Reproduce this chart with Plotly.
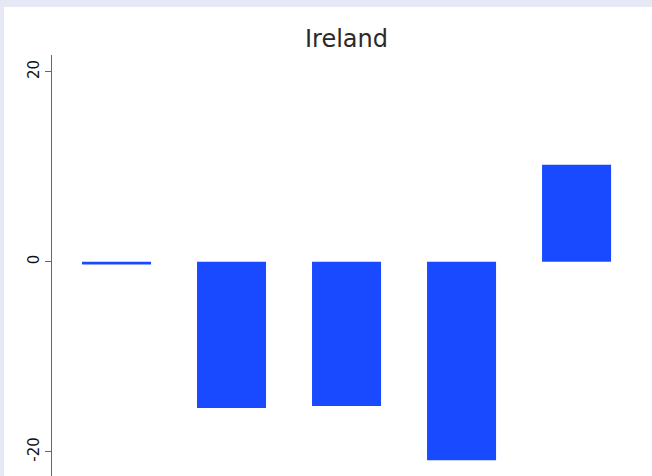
import plotly.graph_objects as go

# Data
categories = ["1", "2", "3", "4", "5"]
values = [-0.3, -15.4, -15.2, -20.9, 10.2]
y_ticks = [-20, 0, 20]
y_tick_labels = ["-20", "0", "20"]
title_text = "Ireland"

W, H = 652, 476
ml, mt = 52, 55
plot_w = W - ml
plot_h = H - mt

fig = go.Figure()
fig.add_trace(go.Bar(
    x=categories, y=values,
    marker=dict(color="#1a4aff", line=dict(width=0)),
    width=0.6,
))

# white panel over lavender page background
fig.add_shape(type="rect", xref="paper", yref="paper",
              x0=(4 - ml) / plot_w, x1=1.02,
              y0=-0.02, y1=1 + (mt - 7) / plot_h,
              fillcolor="white", line=dict(width=0), layer="below")

fig.update_layout(
    width=W, height=H,
    margin=dict(l=ml, r=0, t=mt, b=0, pad=0),
    paper_bgcolor="#e6e8f5",
    plot_bgcolor="rgba(0,0,0,0)",
    showlegend=False,
    font=dict(family="DejaVu Sans", color="#111111"),
    title=dict(text=title_text, x=(346.5 - ml) / plot_w, xref="paper",
               xanchor="center", y=1 - 39 / H, yref="container",
               yanchor="middle", font=dict(size=24, color="#2a2a2a")),
    xaxis=dict(visible=False, range=[-0.561, 4.656], fixedrange=True),
    yaxis=dict(range=[-22.56, 21.76], tickvals=y_ticks, ticktext=y_tick_labels,
               tickangle=-90, ticks="outside", ticklen=6, tickwidth=1,
               tickcolor="#666666", showline=True, linecolor="#666666",
               linewidth=1, showgrid=False, zeroline=False, fixedrange=True,
               tickfont=dict(size=15, color="#111111")),
)

fig.write_html(
    "out.html",
    config={"displayModeBar": False},
    post_script="document.body.style.margin='0';document.body.style.overflow='hidden';",
)
